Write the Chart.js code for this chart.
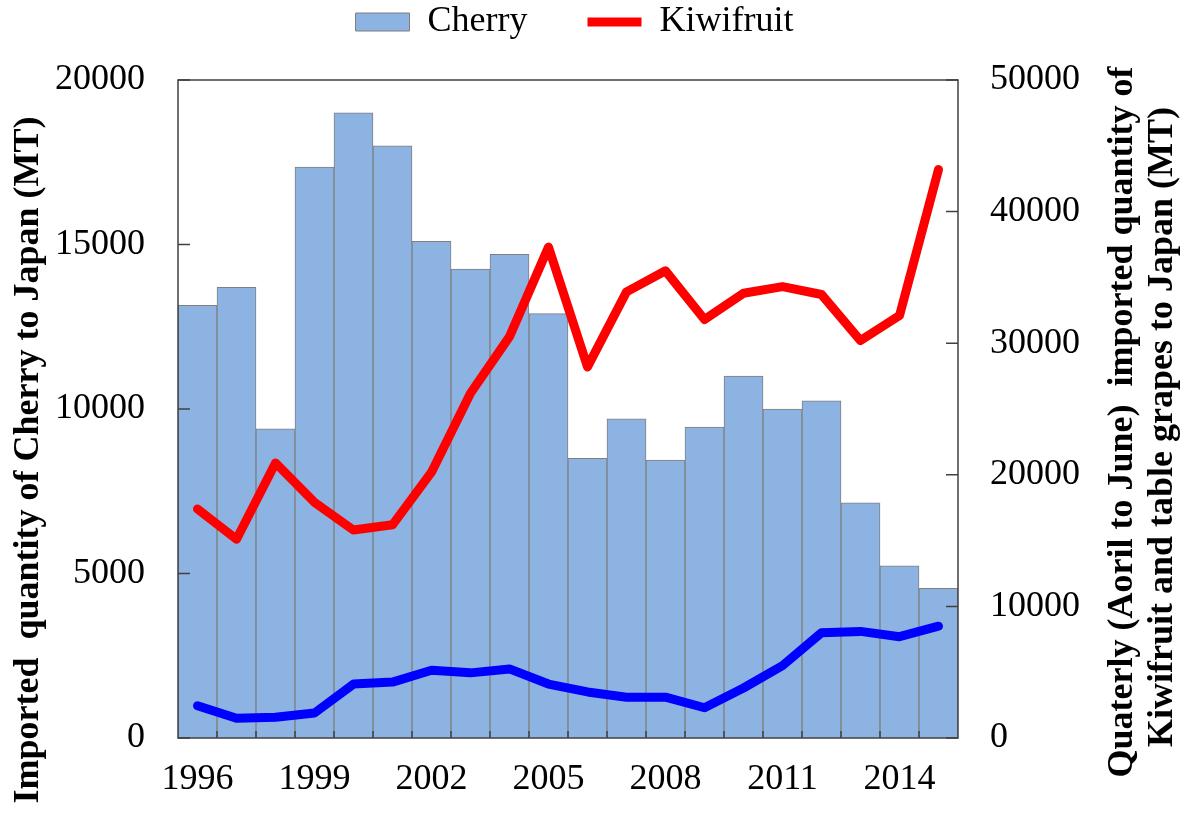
<!DOCTYPE html>
<html>
<head>
<meta charset="utf-8">
<script src="https://cdn.jsdelivr.net/npm/chart.js@4.4.1/dist/chart.umd.min.js"></script>
<style>
  html, body { margin: 0; padding: 0; background: #fff; }
  #wrap { width: 1189px; height: 827px; }
</style>
</head>
<body>
<div id="wrap"><canvas id="importChart" width="1189" height="827"></canvas></div>
<script>
// data
const years = ['1996', '1997', '1998', '1999', '2000', '2001', '2002', '2003', '2004', '2005',
    '2006', '2007', '2008', '2009', '2010', '2011', '2012', '2013', '2014', '2015'];
const cherry = [13150, 13700, 9400, 17350, 19000, 18000, 15100, 14250, 14700, 12900,
    8500, 9700, 8450, 9450, 11000, 10000, 10250, 7150, 5230, 4550];
const kiwifruit = [17400, 15100, 20900, 17900, 15800, 16200, 20200, 26200, 30500, 37300,
    28200, 33900, 35500, 31800, 33800, 34300, 33700, 30200, 32100, 43200];
const tableGrapes = [2450, 1500, 1570, 1900, 4100, 4250, 5150, 4950, 5250, 4100,
    3500, 3100, 3100, 2300, 3800, 5500, 8000, 8100, 7700, 8500];

const leftTitle = 'Imported  quantity of Cherry to Japan (MT)';
const rightTitle = ['Quaterly (Aoril to June)  imported quantity of', 'Kiwifruit and table grapes to Japan (MT)'];

const serif = '"Liberation Serif", "Times New Roman", serif';

// legend box is given a fixed height so the plot starts where it does in the picture
const legendSpace = {
    id: 'legendSpace',
    beforeUpdate(chart) {
        const lg = chart.legend;
        if (lg && !lg._patched) {
            const fit = lg.fit;
            lg.fit = function () {
                fit.call(this);
                this.height = 80;
            };
            lg._patched = true;
        }
    },
    afterLayout(chart) {
        const lg = chart.legend;
        if (lg) {
            lg.top = -56;
            lg.left -= 20;
            lg.right -= 20;
        }
    }
};

// frame and inward tick marks
const frameTicks = {
    id: 'frameTicks',
    afterDatasetsDraw(chart) {
        const { ctx, chartArea: a, scales } = chart;
        ctx.save();
        ctx.strokeStyle = '#404040';
        ctx.lineWidth = 1.5;
        ctx.strokeRect(a.left, a.top, a.right - a.left, a.bottom - a.top);

        ctx.beginPath();
        scales.y.ticks.forEach(t => {
            const py = scales.y.getPixelForValue(t.value);
            ctx.moveTo(a.left, py);
            ctx.lineTo(a.left + 12, py);
        });
        scales.y1.ticks.forEach(t => {
            const py = scales.y1.getPixelForValue(t.value);
            ctx.moveTo(a.right - 12, py);
            ctx.lineTo(a.right, py);
        });
        for (let i = 1; i < years.length; i++) {
            const px = (scales.x.getPixelForValue(i - 1) + scales.x.getPixelForValue(i)) / 2;
            ctx.moveTo(px, a.bottom);
            ctx.lineTo(px, a.bottom - 7);
        }
        ctx.stroke();
        ctx.restore();
    }
};

// both axis titles read bottom to top
const axisTitles = {
    id: 'axisTitles',
    afterDraw(chart) {
        const { ctx } = chart;
        ctx.save();
        ctx.fillStyle = '#000';
        ctx.font = 'bold 36px ' + serif;
        ctx.textAlign = 'center';
        ctx.textBaseline = 'middle';

        const draw = (text, x, y) => {
            ctx.save();
            ctx.translate(x, y);
            ctx.rotate(-Math.PI / 2);
            ctx.fillText(text, 0, 0);
            ctx.restore();
        };
        draw(leftTitle, 29, 460);
        draw(rightTitle[0], 1123, 422);
        draw(rightTitle[1], 1163, 427);
        ctx.restore();
    }
};

const plainNumber = value => String(value);

const ctx = document.getElementById('importChart').getContext('2d');

new Chart(ctx, {
    data: {
        labels: years,
        datasets: [
            {
                type: 'bar',
                label: 'Cherry',
                data: cherry,
                yAxisID: 'y',
                backgroundColor: '#8db3e2',
                borderColor: '#7f7f7f',
                borderWidth: 1,
                categoryPercentage: 1.0,
                barPercentage: 1.0,
                pointStyle: 'rect',
                order: 3,
            },
            {
                type: 'line',
                label: 'Kiwifruit',
                data: kiwifruit,
                yAxisID: 'y1',
                borderColor: '#ff0000',
                backgroundColor: '#ff0000',
                borderWidth: 9,
                pointRadius: 0,
                tension: 0,
                borderCapStyle: 'round',
                borderJoinStyle: 'round',
                pointStyle: 'line',
                order: 1,
            },
            {
                type: 'line',
                label: 'Table grapes',
                data: tableGrapes,
                yAxisID: 'y1',
                borderColor: '#0000ff',
                backgroundColor: '#0000ff',
                borderWidth: 9,
                pointRadius: 0,
                tension: 0,
                borderCapStyle: 'round',
                borderJoinStyle: 'round',
                pointStyle: 'line',
                order: 2,
            }
        ]
    },
    options: {
        responsive: false,
        animation: false,
        layout: { padding: 0 },
        plugins: {
            legend: {
                position: 'top',
                labels: {
                    usePointStyle: true,
                    pointStyleWidth: 54,
                    boxHeight: 18,
                    padding: 60,
                    color: '#000',
                    font: { family: serif, size: 36 },
                    filter: item => item.text !== 'Table grapes',
                    sort: (a, b) => a.datasetIndex - b.datasetIndex,
                }
            },
            title: { display: false },
            tooltip: { enabled: false }
        },
        scales: {
            x: {
                grid: { display: false, drawTicks: false },
                border: { display: false },
                ticks: {
                    autoSkip: false,
                    maxRotation: 0,
                    padding: 20,
                    color: '#000',
                    font: { family: serif, size: 36 },
                    callback: function (value, index) {
                        return index % 3 === 0 ? years[index] : '';
                    }
                },
                afterFit: scale => { scale.height = 89; }
            },
            y: {
                position: 'left',
                min: 0,
                max: 20000,
                grid: { display: false, drawTicks: false },
                border: { display: false },
                ticks: {
                    stepSize: 5000,
                    padding: 33,
                    color: '#000',
                    font: { family: serif, size: 36 },
                    callback: plainNumber
                },
                afterFit: scale => { scale.width = 178; }
            },
            y1: {
                position: 'right',
                min: 0,
                max: 50000,
                grid: { display: false, drawTicks: false },
                border: { display: false },
                ticks: {
                    stepSize: 10000,
                    padding: 32,
                    color: '#000',
                    font: { family: serif, size: 36 },
                    callback: plainNumber
                },
                afterFit: scale => { scale.width = 231; }
            }
        }
    },
    plugins: [legendSpace, frameTicks, axisTitles]
});
</script>
</body>
</html>
